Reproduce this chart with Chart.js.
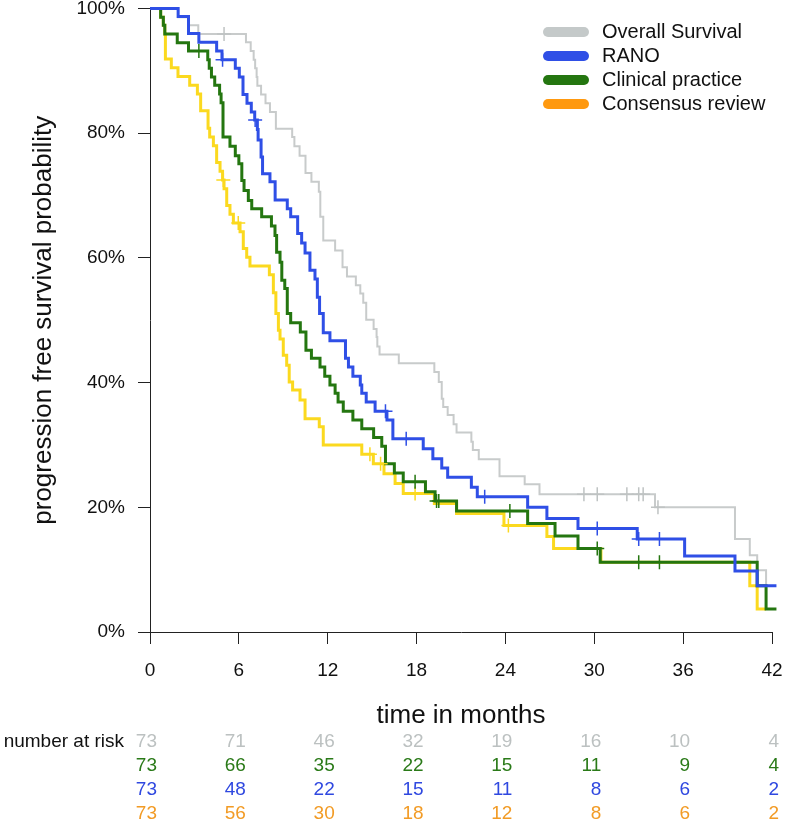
<!DOCTYPE html>
<html>
<head>
<meta charset="utf-8">
<title>Progression free survival</title>
<script src="https://cdn.jsdelivr.net/npm/chart.js@4.4.1/dist/chart.umd.min.js"></script>
<style>
html, body { margin: 0; padding: 0; background: #fff; }
canvas { display: block; }
</style>
</head>
<body>
<canvas id="kmChart" width="786" height="820"></canvas>
<script>
// Kaplan-Meier steps: event time (months) and survival (%) just after it
const osTimes = [0,1.9,2.63,3.26,6.48,6.8,7.0,7.1,7.2,7.25,7.5,7.8,8.1,8.5,9.6,9.75,10.1,10.5,10.9,11.4,11.5,11.7,12.5,13.0,13.3,13.9,14.2,14.4,14.6,15.1,15.3,15.35,15.5,16.8,19.2,19.5,19.7,19.8,20.1,20.5,20.7,21.7,21.8,22.2,23.6,25.3,26.3,34.1,39.5,40.5,41.0,41.6];
const osSurv = [100,98.6,97.3,95.9,94.6,93.2,91.8,90.4,89.0,87.6,86.2,84.8,83.4,80.7,79.4,77.9,76.4,73.6,72.2,70.6,66.6,62.8,61.2,58.5,57.0,55.6,54.3,52.8,50.1,48.6,47.3,45.8,44.5,43.1,41.7,40.1,37.4,36.1,34.8,33.3,32.0,30.5,29.2,27.7,25.0,23.7,22.1,20.0,14.9,12.3,9.9,7.5];
const osEnd = 41.6;
const osCensor = [5.0,29.3,30.2,32.2,33.0,33.3,34.3];

const ranoTimes = [0,1.9,2.6,3.3,4.5,4.86,5.76,6.03,6.28,6.55,6.84,7.07,7.25,7.3,7.5,7.6,8.1,8.45,9.27,9.5,9.97,10.24,10.47,10.8,11.14,11.3,11.45,11.7,12.15,13.2,13.4,13.7,14.2,14.3,14.6,15.2,16.0,16.4,18.45,19.1,19.7,20.1,21.7,22.1,25.5,26.8,28.9,32.9,36.1,39.5,41.0];
const ranoSurv = [100,98.7,96.0,94.6,93.2,91.8,90.4,89.0,86.2,84.8,83.4,82.1,80.6,78.9,76.2,73.5,72.2,69.3,67.9,66.6,63.9,62.4,60.8,58.0,56.6,53.7,51.1,48.0,46.7,43.9,42.5,41.0,39.6,38.3,36.9,35.4,34.0,31.0,29.4,27.8,26.3,24.8,23.2,21.7,20.0,18.2,16.6,14.9,12.2,9.8,7.4];
const ranoEnd = 42.3;
const ranoCensor = [4.9,7.1,15.9,17.3,22.6,30.2,33.0,34.4];

const clinTimes = [0,0.72,0.9,1.0,1.84,2.6,3.9,4.0,4.15,4.37,4.7,4.8,4.93,5.4,5.76,6.0,6.2,6.35,6.64,6.87,7.54,8.2,8.44,8.55,8.78,8.9,9.1,9.27,9.5,10.15,10.53,10.9,11.48,11.8,12.15,12.5,12.7,13.05,13.7,14.3,15.1,15.65,15.9,16.5,17.1,18.6,19.25,20.7,25.5,27.35,28.9,30.4,41.0,41.6];
const clinSurv = [100,98.6,97.3,95.9,94.5,93.2,91.8,90.4,89.0,87.7,86.3,84.9,79.4,77.9,76.4,75.1,72.4,70.8,69.2,67.9,66.6,65.1,63.6,60.9,59.3,56.4,55.1,51.1,49.6,48.1,45.2,43.9,42.5,41.0,39.6,38.3,36.9,35.4,34.0,32.6,31.2,29.8,27.0,25.5,24.1,22.5,21.0,19.4,17.4,15.4,13.4,11.2,7.4,3.7];
const clinEnd = 42.3;
const clinCensor = [3.3,17.9,19.35,19.5,24.3,30.2,33.0,34.4];

const consTimes = [0,0.72,0.9,1.0,1.04,1.44,1.89,2.68,3.2,3.42,3.92,4.03,4.28,4.5,4.73,4.9,5.0,5.18,5.4,5.63,6.08,6.3,6.53,6.75,8.06,8.33,8.5,8.67,8.78,9.0,9.23,9.4,9.63,10.13,10.47,11.43,11.7,14.3,15.08,15.8,16.55,17.1,19.2,20.7,23.9,26.8,27.25,30.45,40.5,41.0];
const consSurv = [100,98.6,97.3,95.9,91.9,90.5,89.1,87.7,86.3,83.6,80.8,79.4,78.0,75.3,73.9,72.5,71.1,68.4,67.0,65.6,64.2,61.5,60.1,58.7,57.3,54.4,51.1,48.4,47.0,44.4,42.8,40.1,38.8,37.2,34.2,32.9,30.0,28.5,27.0,25.4,23.8,22.2,20.6,19.0,17.1,15.3,13.4,11.2,7.4,3.7];
const consEnd = 41.6;
const consCensor = [4.95,5.96,14.85,15.57,17.9,24.2];

// number at risk table
const riskTimes = [0,6,12,18,24,30,36,42];
const riskOS = [73,71,46,32,19,16,10,4];
const riskClin = [73,66,35,22,15,11,9,4];
const riskRano = [73,48,22,15,11,8,6,2];
const riskCons = [73,56,30,18,12,8,6,2];

const legendLabels = ["Overall Survival","RANO","Clinical practice","Consensus review"];
const xTicks = [0,6,12,18,24,30,36,42];
const yTicks = [0,20,40,60,80,100];

const FONT = "'Liberation Sans', Arial, Helvetica, sans-serif";
const GRAY = "#c8cbcb", BLUE = "#2f4fe6", GREEN = "#247610", YELLOW = "#fbd91f";
const legendColors = ["#c4c9c9", BLUE, GREEN, "#ff990f"];

function steps(times, surv, end) {
  const pts = times.map((t, i) => ({x: t, y: surv[i]}));
  pts.push({x: end, y: surv[surv.length - 1]});
  return pts;
}

function survAt(times, surv, t) {
  let v = surv[0];
  for (let i = 0; i < times.length; i++) {
    if (times[i] <= t) v = surv[i];
  }
  return v;
}

function censorPts(times, surv, cens) {
  return cens.map(t => ({x: t, y: survAt(times, surv, t)}));
}

function curve(label, pts, color, width, order) {
  return {
    label: label, data: pts, borderColor: color, borderWidth: width,
    stepped: true, pointRadius: 0, fill: false, clip: false, order: order
  };
}

function marks(pts, color, order) {
  return {
    data: pts, showLine: false, pointStyle: "cross", pointRadius: 7,
    pointBorderWidth: 1.5, pointBorderColor: color, pointBackgroundColor: color,
    clip: false, order: order
  };
}

const overlay = {
  id: "overlay",
  afterDraw(chart) {
    const c = chart.ctx;
    const area = chart.chartArea;
    const xs = chart.scales.x;
    c.save();

    // axis titles
    c.fillStyle = "#111";
    c.font = "26px " + FONT;
    c.textAlign = "center";
    c.textBaseline = "middle";
    c.fillText("time in months", (area.left + area.right) / 2, 716);
    c.save();
    c.translate(44, (area.top + area.bottom) / 2);
    c.rotate(-Math.PI / 2);
    c.fillText("progression free survival probability", 0, 0);
    c.restore();

    // legend
    c.font = "20px " + FONT;
    c.textAlign = "left";
    legendLabels.forEach((lab, i) => {
      const y = 32 + i * 24;
      c.strokeStyle = legendColors[i];
      c.lineWidth = 10;
      c.lineCap = "round";
      c.beginPath();
      c.moveTo(548, y);
      c.lineTo(584, y);
      c.stroke();
      c.fillStyle = "#111";
      c.fillText(lab, 602, y);
    });

    // number at risk
    const rows = [riskOS, riskClin, riskRano, riskCons];
    const rowColors = ["#bcc1c1", "#2a7a18", "#2f48e0", "#f29b25"];
    c.font = "19px " + FONT;
    c.textAlign = "right";
    c.fillStyle = "#111";
    c.fillText("number at risk", 124, 742);
    rows.forEach((row, r) => {
      c.fillStyle = rowColors[r];
      row.forEach((n, i) => {
        c.fillText(String(n), xs.getPixelForValue(riskTimes[i]) + 7, 742 + r * 24);
      });
    });
    c.restore();
  }
};

new Chart(document.getElementById("kmChart"), {
  type: "line",
  data: {
    datasets: [
      curve(legendLabels[0], steps(osTimes, osSurv, osEnd), GRAY, 2, 4),
      curve(legendLabels[1], steps(ranoTimes, ranoSurv, ranoEnd), BLUE, 3, 1),
      curve(legendLabels[2], steps(clinTimes, clinSurv, clinEnd), GREEN, 3, 2),
      curve(legendLabels[3], steps(consTimes, consSurv, consEnd), YELLOW, 3, 3),
      marks(censorPts(osTimes, osSurv, osCensor), "#bfc3c3", 0),
      marks(censorPts(ranoTimes, ranoSurv, ranoCensor), BLUE, 0),
      marks(censorPts(clinTimes, clinSurv, clinCensor), GREEN, 0),
      marks(censorPts(consTimes, consSurv, consCensor), YELLOW, 0)
    ]
  },
  options: {
    responsive: false,
    animation: false,
    events: [],
    layout: { padding: { left: 0, right: 14, top: 8, bottom: 0 } },
    plugins: {
      legend: { display: false },
      tooltip: { enabled: false }
    },
    scales: {
      x: {
        type: "linear",
        min: xTicks[0],
        max: xTicks[xTicks.length - 1],
        afterBuildTicks: s => { s.ticks = xTicks.map(v => ({value: v})); },
        ticks: { color: "#111", font: { family: FONT, size: 19 }, padding: 15, maxRotation: 0, autoSkip: false },
        grid: { drawOnChartArea: false, drawTicks: true, tickLength: 12, color: "#222", lineWidth: 1 },
        border: { display: true, color: "#222", width: 1 },
        afterFit: s => { s.height = 188; s.paddingLeft = 0; s.paddingRight = 0; }
      },
      y: {
        min: yTicks[0],
        max: yTicks[yTicks.length - 1],
        afterBuildTicks: s => { s.ticks = yTicks.map(v => ({value: v})); },
        ticks: { color: "#111", font: { family: FONT, size: 19 }, padding: 13, callback: v => v + "%" },
        grid: { drawOnChartArea: false, drawTicks: true, tickLength: 12, color: "#222", lineWidth: 1 },
        border: { display: true, color: "#222", width: 1 },
        afterFit: s => { s.width = 150; s.paddingTop = 0; s.paddingBottom = 0; }
      }
    }
  },
  plugins: [overlay]
});
</script>
</body>
</html>
